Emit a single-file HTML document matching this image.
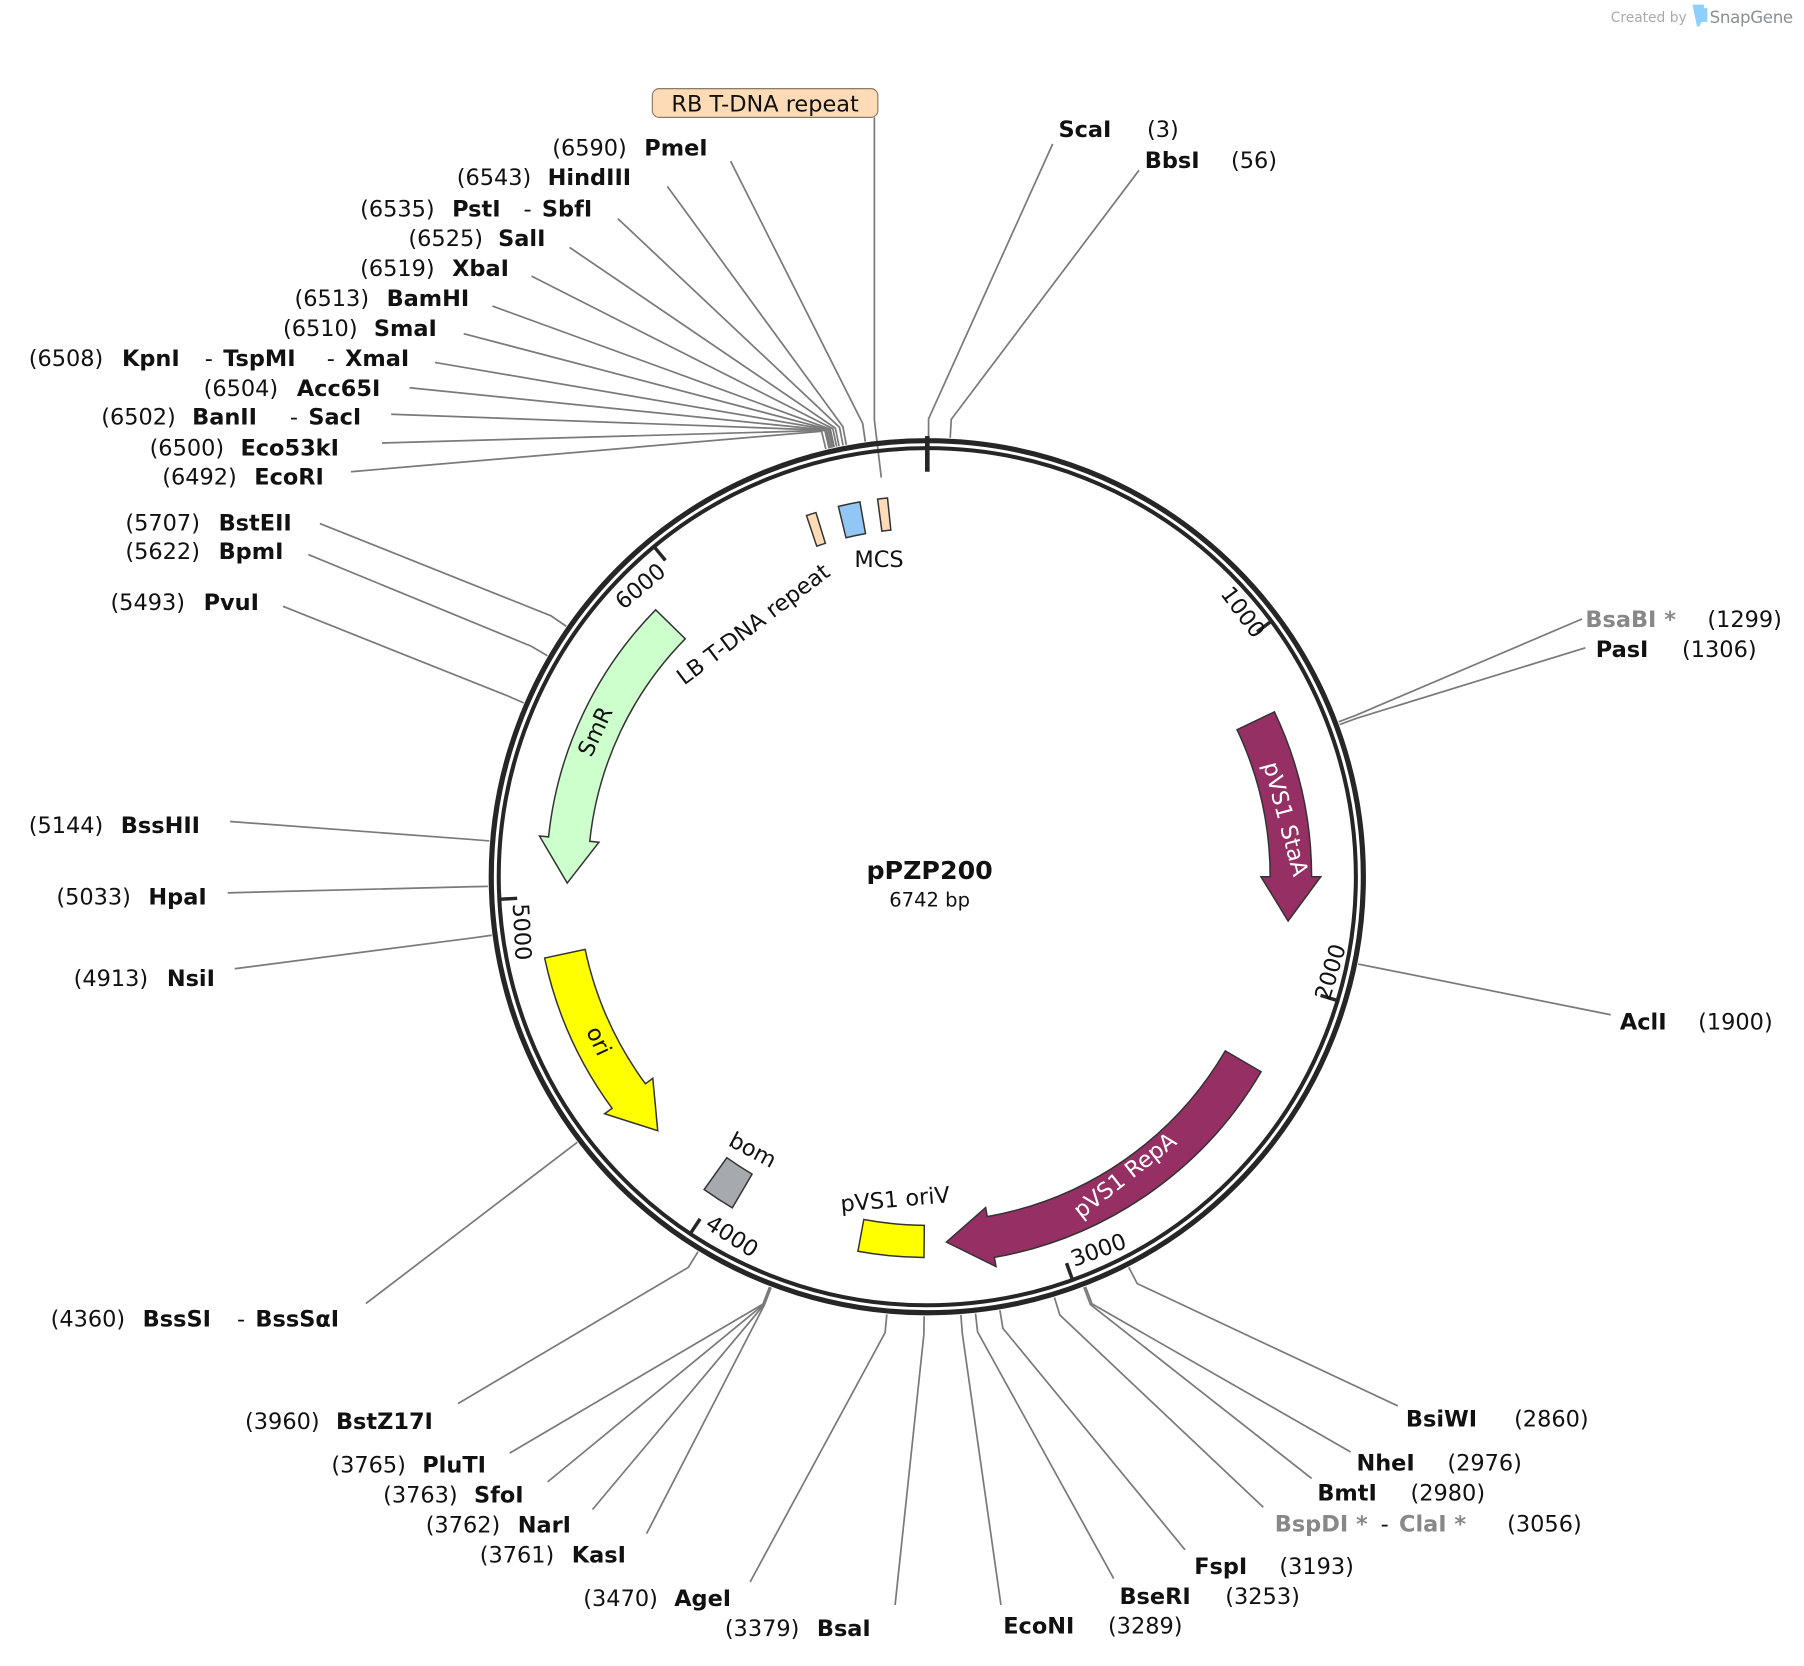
<!DOCTYPE html>
<html><head><meta charset="utf-8"><style>
html,body{margin:0;padding:0;background:#fff;}
svg{display:block;}
text{font-family:"DejaVu Sans","Liberation Sans",sans-serif;font-size:19.5px;fill:#111;}
.b{font-weight:bold;}
.g{fill:#888;}
</style></head><body>
<svg id="s" width="1804" height="1666" viewBox="0 0 1568 1448" xmlns="http://www.w3.org/2000/svg">
<g id="lines" stroke="#7a7a7a" stroke-width="1.5" fill="none"></g>
<polyline points="760,102 760,365 766,415" stroke="#7a7a7a" stroke-width="1.5" fill="none"/>
<circle cx="806" cy="762" r="379" fill="none" stroke="#262626" stroke-width="4.5"/>
<circle cx="806" cy="762" r="372.5" fill="none" stroke="#262626" stroke-width="3.5"/>
<g id="feat"></g>
<g id="ticks" stroke="#262626"></g>

<text x="1400" y="19" style="font-size:12px;fill:#aaa">Created by</text>
<path d="M1471 4 h10 v3 h3 v12 h-5 l-2 4 h-2 z" fill="#8fd0fb"/>
<text x="1486" y="20" style="font-size:14.5px;fill:#8a8f96;letter-spacing:-0.3px">SnapGene</text>

<rect x="567" y="77" width="196" height="25" rx="6" fill="#fddbb7" stroke="#8a7a66" stroke-width="1"/>
<text x="665" y="97" text-anchor="middle">RB T-DNA repeat</text>

<text x="920" y="119" class="b">ScaI</text><text x="997" y="119">(3)</text>
<text x="995" y="146" class="b">BbsI</text><text x="1070" y="146">(56)</text>

<text x="480" y="135">(6590)</text><text x="560" y="135" class="b">PmeI</text>
<text x="397" y="161">(6543)</text><text x="476" y="161" class="b">HindIII</text>
<text x="313" y="188">(6535)</text><text x="393" y="188" class="b">PstI</text><text x="455" y="188">-</text><text x="471" y="188" class="b">SbfI</text>
<text x="355" y="214">(6525)</text><text x="433" y="214" class="b">SalI</text>
<text x="313" y="240">(6519)</text><text x="393" y="240" class="b">XbaI</text>
<text x="256" y="266">(6513)</text><text x="336" y="266" class="b">BamHI</text>
<text x="246" y="292">(6510)</text><text x="325" y="292" class="b">SmaI</text>
<text x="25" y="318">(6508)</text><text x="106" y="318" class="b">KpnI</text><text x="178" y="318">-</text><text x="194" y="318" class="b">TspMI</text><text x="284" y="318">-</text><text x="300" y="318" class="b">XmaI</text>
<text x="177" y="344">(6504)</text><text x="258" y="344" class="b">Acc65I</text>
<text x="88" y="369">(6502)</text><text x="167" y="369" class="b">BanII</text><text x="252" y="369">-</text><text x="268" y="369" class="b">SacI</text>
<text x="130" y="396">(6500)</text><text x="209" y="396" class="b">Eco53kI</text>
<text x="141" y="421">(6492)</text><text x="221" y="421" class="b">EcoRI</text>
<text x="109" y="461">(5707)</text><text x="190" y="461" class="b">BstEII</text>
<text x="109" y="486">(5622)</text><text x="190" y="486" class="b">BpmI</text>
<text x="96" y="530">(5493)</text><text x="177" y="530" class="b">PvuI</text>
<text x="25" y="724">(5144)</text><text x="105" y="724" class="b">BssHII</text>
<text x="49" y="786">(5033)</text><text x="129" y="786" class="b">HpaI</text>
<text x="64" y="857">(4913)</text><text x="145" y="857" class="b">NsiI</text>
<text x="44" y="1153">(4360)</text><text x="124" y="1153" class="b">BssSI</text><text x="206" y="1153">-</text><text x="222" y="1153" class="b">BssSαI</text>
<text x="213" y="1242">(3960)</text><text x="292" y="1242" class="b">BstZ17I</text>
<text x="288" y="1280">(3765)</text><text x="367" y="1280" class="b">PluTI</text>
<text x="333" y="1306">(3763)</text><text x="412" y="1306" class="b">SfoI</text>
<text x="370" y="1332">(3762)</text><text x="450" y="1332" class="b">NarI</text>
<text x="417" y="1358">(3761)</text><text x="497" y="1358" class="b">KasI</text>
<text x="507" y="1396">(3470)</text><text x="586" y="1396" class="b">AgeI</text>
<text x="630" y="1422">(3379)</text><text x="710" y="1422" class="b">BsaI</text>
<text x="872" y="1420" class="b">EcoNI</text><text x="963" y="1420">(3289)</text>
<text x="973" y="1394" class="b">BseRI</text><text x="1065" y="1394">(3253)</text>
<text x="1038" y="1368" class="b">FspI</text><text x="1112" y="1368">(3193)</text>
<text x="1108" y="1331" class="b g">BspDI *</text><text x="1200" y="1331">-</text><text x="1216" y="1331" class="b g">ClaI *</text><text x="1310" y="1331">(3056)</text>
<text x="1145" y="1304" class="b">BmtI</text><text x="1226" y="1304">(2980)</text>
<text x="1179" y="1278" class="b">NheI</text><text x="1258" y="1278">(2976)</text>
<text x="1222" y="1240" class="b">BsiWI</text><text x="1316" y="1240">(2860)</text>
<text x="1408" y="895" class="b">AclI</text><text x="1476" y="895">(1900)</text>
<text x="1387" y="571" class="b">PasI</text><text x="1462" y="571">(1306)</text>
<text x="1378" y="545" class="b g">BsaBI *</text><text x="1484" y="545">(1299)</text>

<text x="808" y="764" text-anchor="middle" class="b" style="font-size:22px">pPZP200</text>
<text x="808" y="788" text-anchor="middle" style="font-size:17px">6742 bp</text>

<text transform="translate(1075,536) rotate(53.4)" text-anchor="middle">1000</text>
<text transform="translate(1157,845) rotate(-73)" text-anchor="middle" dy="6">2000</text>
<text transform="translate(955,1087) rotate(-20)" text-anchor="middle" dy="6">3000</text>
<text transform="translate(636,1075) rotate(33)" text-anchor="middle" dy="6">4000</text>
<text transform="translate(453,810) rotate(87)" text-anchor="middle" dy="6">5000</text>
<text transform="translate(557,510) rotate(-40)" text-anchor="middle" dy="6">6000</text>

<text transform="translate(655,543) rotate(-37)" text-anchor="middle" dy="6">LB T-DNA repeat</text>
<text x="764" y="493" text-anchor="middle">MCS</text>
<text transform="translate(518,636) rotate(-65)" text-anchor="middle" dy="6">SmR</text>
<text transform="translate(1117,712) rotate(75)" text-anchor="middle" dy="6" style="fill:#fff">pVS1 StaA</text>
<text transform="translate(978,1022) rotate(-38)" text-anchor="middle" dy="6" style="fill:#fff">pVS1 RepA</text>
<text transform="translate(520,905) rotate(65)" text-anchor="middle" dy="6">ori</text>
<text transform="translate(654,1000) rotate(28)" text-anchor="middle" dy="6">bom</text>
<text transform="translate(778,1043) rotate(-5)" text-anchor="middle" dy="6">pVS1 oriV</text>
</svg>
<script>
const cx=806,cy=762,NS="http://www.w3.org/2000/svg";
function P(r,a){const t=a*Math.PI/180;return [cx+r*Math.sin(t),cy-r*Math.cos(t)];}
function f(p){return p[0].toFixed(1)+" "+p[1].toFixed(1);}
function add(g,tag,attrs){const e=document.createElementNS(NS,tag);for(const k in attrs)e.setAttribute(k,attrs[k]);document.getElementById(g).appendChild(e);}
function arrow(a0,a1,rc,hw,hh,hd,fill){
 const d=a1>a0?1:-1,hb=a1-d*hd,sw=d>0?1:0,sb=d>0?0:1;
 let p="M"+f(P(rc+hw,a0))+" A"+(rc+hw)+" "+(rc+hw)+" 0 0 "+sw+" "+f(P(rc+hw,hb));
 p+=" L"+f(P(rc+hh,hb))+" L"+f(P(rc,a1))+" L"+f(P(rc-hh,hb))+" L"+f(P(rc-hw,hb));
 p+=" A"+(rc-hw)+" "+(rc-hw)+" 0 0 "+sb+" "+f(P(rc-hw,a0))+" Z";
 add("feat","path",{d:p,fill:fill,stroke:"#333","stroke-width":1.3});
}
function box(a0,a1,rc,hw,fill){
 let p="M"+f(P(rc+hw,a0))+" A"+(rc+hw)+" "+(rc+hw)+" 0 0 1 "+f(P(rc+hw,a1))+" L"+f(P(rc-hw,a1))+" A"+(rc-hw)+" "+(rc-hw)+" 0 0 0 "+f(P(rc-hw,a0))+" Z";
 add("feat","path",{d:p,fill:fill,stroke:"#333","stroke-width":1.3});
}
arrow(64.6,97,316,18,26,7,"#962f63");
arrow(120.3,177,318,18,26,7,"#962f63");
arrow(258,226.7,322,18,26,7,"#ffff00");
arrow(314.5,269,313,18,26,7,"#ccffcc");
box(180.5,190.5,317,14,"#ffff00");
box(210.5,215.5,317,17,"#a6a9ad");
box(341.5,343,317,14,"#fddbb7");
box(346.5,349.8,317,14,"#92c6f4");
box(352.5,354,317,14,"#fddbb7");
add("ticks","line",{x1:P(383,0)[0],y1:P(383,0)[1],x2:P(352,0)[0],y2:P(352,0)[1],"stroke-width":4});
for(let k=1;k<=6;k++){const a=k*1000*360/6742;const p1=P(371,a),p2=P(357,a);add("ticks","line",{x1:p1[0],y1:p1[1],x2:p2[0],y2:p2[1],"stroke-width":3});}
const L=[[915,125,3],[990,148,56],[635,140,6590],[580,162,6543],[537,190,6535],[495,215,6525],[462,240,6519],[428,266,6513],[403,290,6510],[378,315,6508],[356,337,6504],[340,360,6502],[332,385,6500],[305,410,6492],[278,455,5707],[268,482,5622],[246,527,5493],[200,714,5144],[198,776,5033],[204,842,4913],[318,1133,4360],[398,1220,3960],[443,1263,3765],[476,1288,3763],[515,1312,3762],[562,1333,3761],[652,1375,3470],[778,1395,3379],[870,1395,3289],[968,1372,3253],[1030,1347,3193],[1098,1310,3056],[1140,1285,2980],[1174,1262,2976],[1215,1222,2860],[1400,882,1900],[1378,563,1306],[1375,538,1299]];
for(const [x,y,bp] of L){const a=bp*360/6742;const k=P(398,a),e=P(382,a);add("lines","polyline",{points:x+","+y+" "+f(k).replace(" ",",")+" "+f(e).replace(" ",",")});}
</script>
</body></html>
